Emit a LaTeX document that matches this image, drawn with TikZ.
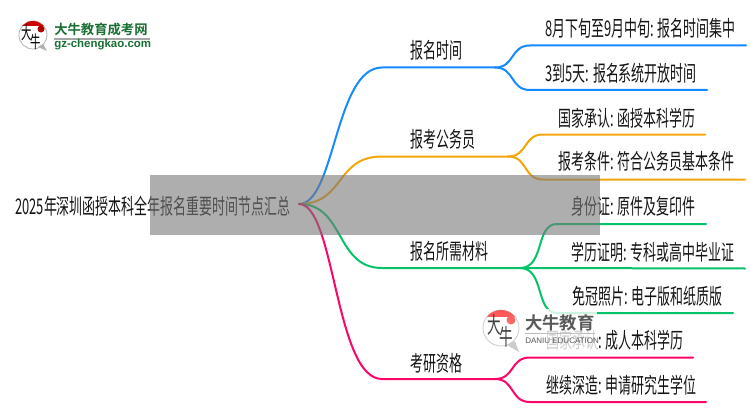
\documentclass[tikz,border=0pt]{standalone}
\usepackage{fontspec}
\setmainfont{Liberation Sans}
\newfontfamily\cjk[FakeStretch=0.6]{Noto Sans CJK SC}
\newfontfamily\logofont[BoldFont=*]{Noto Sans CJK SC Bold}
\newcommand{\mapsize}{\fontsize{16.2}{18}\selectfont}
\tikzset{
  lbl/.style={anchor=west,inner sep=0pt,text=black!92,font=\cjk\mapsize},
  wire/.style={line width=1.5pt,line cap=round},
  bluewire/.style={wire,draw={rgb,255:red,22;green,138;blue,255}},
  orangewire/.style={wire,draw={rgb,255:red,245;green,166;blue,10}},
  greenwire/.style={wire,draw={rgb,255:red,5;green,195;blue,105}},
  pinkwire/.style={wire,draw={rgb,255:red,250;green,5;blue,105}},
}
\begin{document}
\begin{tikzpicture}[x=0.75pt,y=-0.75pt]
\useasboundingbox (0,0) rectangle (750,410);
\coordinate (hub) at (299,204); % root of the map
\coordinate (timeA) at (382,67.5); % branch
\coordinate (timeB) at (495,67.5);
\coordinate (civilA) at (382,156.5); % branch
\coordinate (civilB) at (508,156.5);
\coordinate (docsA) at (382,268); % branch
\coordinate (docsB) at (520,268);
\coordinate (gradA) at (382,379); % branch
\coordinate (gradB) at (495,379);
\coordinate (leafA) at (746,45.5);
\coordinate (leafB) at (707,90);
\coordinate (leafC) at (705,134.5);
\coordinate (leafD) at (745,179.5);
\coordinate (leafE) at (706,224);
\coordinate (leafF) at (745,268.5);
\coordinate (leafG) at (733,313);
\coordinate (leafH) at (693,357.5);
\coordinate (leafI) at (706,402);
% first level
\draw[bluewire] (hub) .. controls (335,204) and (335,67.5) .. (timeA) -- (timeB);
\draw[orangewire] (hub) .. controls (345,204) and (335,156.5) .. (civilA) -- (civilB);
\draw[greenwire] (hub) .. controls (345,204) and (335,268) .. (docsA) -- (docsB);
\draw[pinkwire] (hub) .. controls (335,204) and (335,379) .. (gradA) -- (gradB);
% second level
\draw[bluewire] (timeB) .. controls (515,67.5) and (510,45.5) .. (530,45.5) -- (leafA);
\draw[bluewire] (timeB) .. controls (515,67.5) and (510,90) .. (530,90) -- (leafB);
\draw[orangewire] (civilB) .. controls (528,156.5) and (523,134.5) .. (543,134.5) -- (leafC);
\draw[orangewire] (civilB) .. controls (528,156.5) and (523,179.5) .. (543,179.5) -- (leafD);
\draw[greenwire] (docsB) .. controls (545,268) and (535,224) .. (557,224) -- (leafE);
\draw[greenwire] (docsB) -- (leafF);
\draw[greenwire] (docsB) .. controls (545,268) and (535,313) .. (557,313) -- (leafG);
\draw[pinkwire] (gradB) .. controls (515,379) and (510,357.5) .. (530,357.5) -- (leafH);
\draw[pinkwire] (gradB) .. controls (515,379) and (510,402) .. (530,402) -- (leafI);
% texts
\node[lbl] (root) at (15,206) {2025年深圳函授本科全年报名重要时间节点汇总};
\node[lbl] (time) at (410,50) {报名时间};
\node[lbl] (civil) at (410,139) {报考公务员};
\node[lbl] (docs) at (410,251) {报名所需材料};
\node[lbl] (grad) at (410,363) {考研资格};
\node[lbl] (textA) at (545,28) {8月下旬至9月中旬: 报名时间集中};
\node[lbl] (textB) at (545,73) {3到5天: 报名系统开放时间};
\node[lbl] (textC) at (558,118) {国家承认: 函授本科学历};
\node[lbl] (textD) at (558,161) {报考条件: 符合公务员基本条件};
\node[lbl] (textE) at (571,206) {身份证: 原件及复印件};
\node[lbl] (textF) at (571,252) {学历证明: 专科或高中毕业证};
\node[lbl] (textG) at (572,296) {免冠照片: 电子版和纸质版};
\node[lbl] (textH) at (546,340) {国家承认: 成人本科学历};
\node[lbl] (textI) at (546,385) {继续深造: 申请研究生学位};
% grey band and veil
\fill[black!53,opacity=0.6] (150,175) rectangle (600,235);
\fill[white,opacity=0.8] (483,309) rectangle (597,352);
% top logo
\fill[white,draw=black!30,line width=0.6pt] (33,35) circle (14);
\fill[black!30] (38,47) -- (47,51) -- (43,44) -- cycle;
\begin{scope}
\clip (33,35) circle (14);
\fill[red!80!black] (19,21) rectangle (47,26);
\end{scope}
\fill[red!70!black] (41,29) circle (3.5);
\node[inner sep=0pt,font=\cjk\fontsize{13}{13}\selectfont] (bigA) at (27,33) {大};
\node[inner sep=0pt,font=\cjk\fontsize{13}{13}\selectfont] (bigB) at (36,42) {牛};
\node[anchor=west,inner sep=0pt,text={rgb,255:red,25;green,110;blue,50},font=\logofont\fontsize{10}{12}\selectfont] (brandA) at (54,29.5) {大牛教育成考网};
\fill[black!35] (54,38.5) rectangle (150,40);
\node[anchor=west,inner sep=0pt,text={rgb,255:red,25;green,110;blue,50},font=\bfseries\fontsize{8.6}{10}\selectfont] (brandB) at (54,45) {gz-chengkao.com};
% watermark logo
\fill[white,draw=black!20,line width=0.6pt] (501,328) circle (18);
\fill[black!20] (507,345) -- (519,352) -- (515,341) -- cycle;
\begin{scope}
\clip (501,328) circle (18);
\fill[red!65] (483,310) rectangle (519,317);
\end{scope}
\fill[red!60] (511,320) circle (4.5);
\node[inner sep=0pt,text=black!75,font=\cjk\fontsize{17}{17}\selectfont] (markA) at (494,325) {大};
\node[inner sep=0pt,text=black!75,font=\cjk\fontsize{17}{17}\selectfont] (markB) at (506,337) {牛};
\node[anchor=west,inner sep=0pt,text=black!65,font=\logofont\fontsize{13}{14}\selectfont] (brandC) at (525,322.5) {大牛教育};
\fill[black!25] (525,333) rectangle (595,334);
\node[anchor=west,inner sep=0pt,text=black!65,font=\fontsize{6}{7}\selectfont] (brandD) at (525,341) {DANIU EDUCATION};
\end{tikzpicture}
\end{document}
